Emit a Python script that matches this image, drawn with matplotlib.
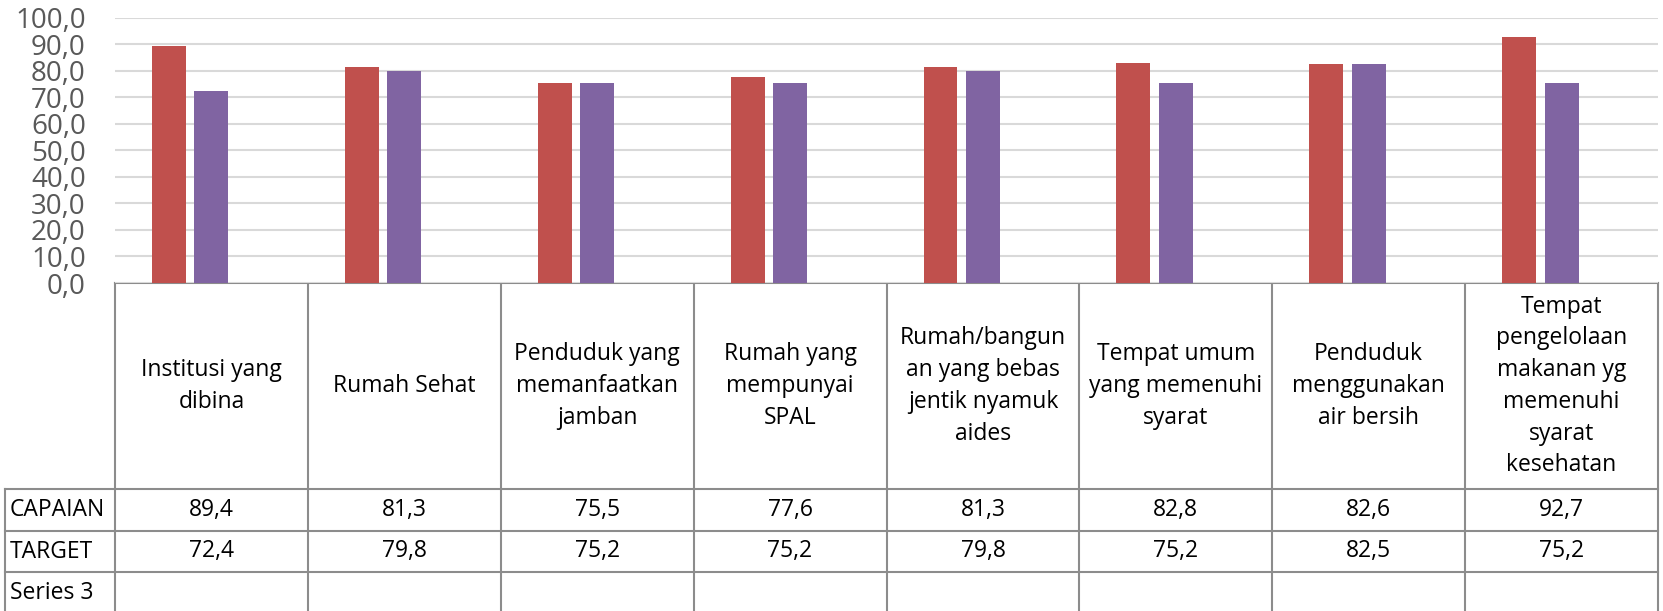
import matplotlib
matplotlib.use("Agg")
import matplotlib.pyplot as plt
import numpy as np

# ── Data ──────────────────────────────────────────────────────────────────────
categories = [
    "Institusi yang\ndibina",
    "Rumah Sehat",
    "Penduduk yang\nmemanfaatkan\njamban",
    "Rumah yang\nmempunyai\nSPAL",
    "Rumah/bangun\nan yang bebas\njentik nyamuk\naides",
    "Tempat umum\nyang memenuhi\nsyarat",
    "Penduduk\nmenggunakan\nair bersih",
    "Tempat\npengelolaan\nmakanan yg\nmemenuhi\nsyarat\nkesehatan",
]
capaian = [89.4, 81.3, 75.5, 77.6, 81.3, 82.8, 82.6, 92.7]
target = [72.4, 79.8, 75.2, 75.2, 79.8, 75.2, 82.5, 75.2]
series_names = ["CAPAIAN", "TARGET", "Series 3"]
yticks = np.arange(0, 101, 10)

# ── Layout (pixels) ──────────────────────────────────────────────────────────
W, H = 1663, 611
LEFT, RIGHT = 115, 1658
ZERO_Y, TOP_Y = 283, 17.5
LABEL_X0 = 5
ROW_Y = [489, 531, 572, 613.5]   # row boundaries of the data table
FONT = "Open Sans"
RED, PURPLE = "#C0504D", "#8064A2"
LINE = "#8C8C8C"
FS = 16.5

plt.rcParams["font.family"] = [FONT, "DejaVu Sans"]

fig = plt.figure(figsize=(W / 100, H / 100), dpi=100)

# ── Bar chart ────────────────────────────────────────────────────────────────
ax = fig.add_axes([LEFT / W, 1 - ZERO_Y / H, (RIGHT - LEFT) / W, (ZERO_Y - TOP_Y) / H])
x = np.arange(len(categories)) + 0.5
bw = 0.176
ax.bar(x - 0.22, capaian, width=bw, color=RED, zorder=3)
ax.bar(x, target, width=bw, color=PURPLE, zorder=3)
ax.set_xlim(0, len(categories))
ax.set_ylim(0, 100)
ax.set_yticks(yticks)
ax.set_yticklabels([f"{v:.1f}".replace(".", ",") for v in yticks])
ax.tick_params(axis="y", length=0, pad=21, labelsize=20, labelcolor="#595959")
ax.set_xticks([])
ax.grid(axis="y", color="#D9D9D9", linewidth=1.5, zorder=0)
for s in ax.spines.values():
    s.set_visible(False)

# ── Data table (drawn in pixel coordinates) ─────────────────────────────────
tab = fig.add_axes([0, 0, 1, 1], zorder=-1)
tab.set_xlim(0, W)
tab.set_ylim(H, 0)
tab.axis("off")

colw = (RIGHT - LEFT) / len(categories)
edges = [LEFT + i * colw for i in range(len(categories) + 1)]
lw = 1.5

tab.plot([LEFT, RIGHT], [ZERO_Y, ZERO_Y], color=LINE, lw=lw)
for e in edges:
    tab.plot([e, e], [ZERO_Y, H], color=LINE, lw=lw)
for yb in ROW_Y[:-1]:
    tab.plot([LABEL_X0, RIGHT], [yb, yb], color=LINE, lw=lw)
tab.plot([LABEL_X0, LABEL_X0], [ROW_Y[0], H], color=LINE, lw=lw)

hdr_c = (ZERO_Y + ROW_Y[0]) / 2
for i, cat in enumerate(categories):
    cx = (edges[i] + edges[i + 1]) / 2
    tab.text(cx, hdr_c, cat, ha="center", va="center", fontsize=FS,
             linespacing=1.43, color="black")

rows = [capaian, target, None]
for r, (name, vals) in enumerate(zip(series_names, rows)):
    cy = (ROW_Y[r] + ROW_Y[r + 1]) / 2
    tab.text(LABEL_X0 + 5, cy, name, ha="left", va="center", fontsize=FS)
    if vals is None:
        continue
    for i, v in enumerate(vals):
        cx = (edges[i] + edges[i + 1]) / 2
        tab.text(cx, cy, f"{v:.1f}".replace(".", ","), ha="center", va="center",
                 fontsize=FS)

fig.savefig("out.png", dpi=100)
